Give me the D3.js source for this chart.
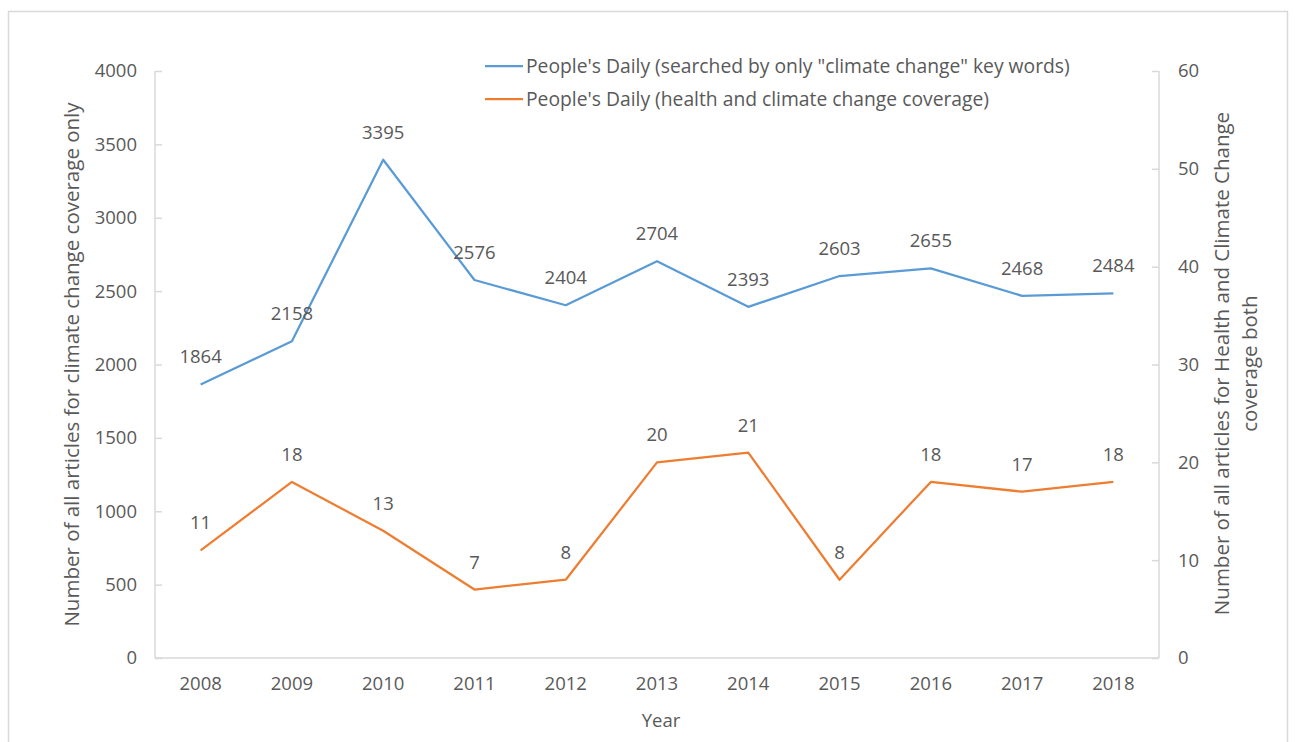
<!DOCTYPE html>
<html>
<head>
<meta charset="utf-8">
<script src="https://cdn.jsdelivr.net/npm/d3@7"></script>
<style>
  body { margin: 0; background: #fff; }
  svg text { font-family: "Open Sans", sans-serif; fill: #595959; }
</style>
</head>
<body>
<div id="container"></div>
<script>
const WIDTH = 1295;
const HEIGHT = 742;
const MARGIN = { TOP: 71, BOTTOM: 84, LEFT: 155, RIGHT: 136 };

const width = WIDTH - MARGIN.LEFT - MARGIN.RIGHT;
const height = HEIGHT - MARGIN.TOP - MARGIN.BOTTOM;

// data
const years = ['2008', '2009', '2010', '2011', '2012', '2013', '2014', '2015', '2016', '2017', '2018'];
const climateOnly = [1864, 2158, 3395, 2576, 2404, 2704, 2393, 2603, 2655, 2468, 2484];
const healthClimate = [11, 18, 13, 7, 8, 20, 21, 8, 18, 17, 18];
const leftTicks = [0, 500, 1000, 1500, 2000, 2500, 3000, 3500, 4000];
const rightTicks = [0, 10, 20, 30, 40, 50, 60];
const seriesNames = [
  'People\'s Daily (searched by only "climate change" key words)',
  "People's Daily (health and climate change coverage)"
];

const BLUE = '#5B9BD5';
const ORANGE = '#ED7D31';
const AXIS = '#D9D9D9';

const svg = d3.select('#container')
  .append('svg')
    .attr('width', WIDTH)
    .attr('height', HEIGHT);

// outer chart border
svg.append('rect')
  .attr('x', 8.5).attr('y', 11.5)
  .attr('width', 1279).attr('height', 740)
  .attr('fill', 'none')
  .attr('stroke', AXIS)
  .attr('stroke-width', 1.5);

const g = svg.append('g')
  .attr('transform', `translate(${MARGIN.LEFT}, ${MARGIN.TOP})`);

const x = d3.scaleBand().domain(years).range([0, width]);
const yLeft = d3.scaleLinear().domain([0, 4000]).range([height, 0]);
const yRight = d3.scaleLinear().domain([0, 60]).range([height, 0]);

const xc = d => x(d) + x.bandwidth() / 2;

// axes (ticks point inwards like excel)
const leftAxis = g.append('g')
  .call(d3.axisLeft(yLeft).tickValues(leftTicks).tickFormat(d3.format('d')).tickSize(-7).tickPadding(18));
const rightAxis = g.append('g')
  .attr('transform', `translate(${width}, 0)`)
  .call(d3.axisRight(yRight).tickValues(rightTicks).tickSize(-7).tickPadding(19));
const bottomAxis = g.append('g')
  .attr('transform', `translate(0, ${height})`)
  .call(d3.axisBottom(x).tickSize(0).tickPadding(19));

[leftAxis, rightAxis, bottomAxis].forEach(a => {
  a.selectAll('.domain').attr('stroke', AXIS).attr('stroke-width', 1.5);
  a.selectAll('.tick line').attr('stroke', AXIS).attr('stroke-width', 1.5);
  a.selectAll('.tick text').style('font-size', '18.5px').attr('fill', '#595959');
});
leftAxis.select('.domain').attr('d', `M0,${height}V0`);
rightAxis.select('.domain').attr('d', `M0,${height}V0`);
bottomAxis.select('.domain').attr('d', `M0,0H${width}`);

// lines
const blueLine = d3.line().x((d, i) => xc(years[i])).y(d => yLeft(d));
const orangeLine = d3.line().x((d, i) => xc(years[i])).y(d => yRight(d));

g.append('path').datum(climateOnly)
  .attr('d', blueLine)
  .attr('fill', 'none').attr('stroke', BLUE).attr('stroke-width', 2.25)
  .attr('stroke-linejoin', 'round');

g.append('path').datum(healthClimate)
  .attr('d', orangeLine)
  .attr('fill', 'none').attr('stroke', ORANGE).attr('stroke-width', 2.25)
  .attr('stroke-linejoin', 'round');

// data labels, above each point
g.selectAll('.lblBlue')
  .data(climateOnly)
  .enter().append('text')
    .attr('class', 'lblBlue')
    .attr('x', (d, i) => xc(years[i]))
    .attr('y', d => yLeft(d) - 21)
    .attr('text-anchor', 'middle')
    .style('font-size', '18.5px')
    .text(d => d);

g.selectAll('.lblOrange')
  .data(healthClimate)
  .enter().append('text')
    .attr('class', 'lblOrange')
    .attr('x', (d, i) => xc(years[i]))
    .attr('y', d => yRight(d) - 21)
    .attr('text-anchor', 'middle')
    .style('font-size', '18.5px')
    .text(d => d);

// axis titles
svg.append('text')
  .attr('transform', `translate(79, ${MARGIN.TOP + height / 2}) rotate(-90)`)
  .attr('text-anchor', 'middle')
  .style('font-size', '20.5px')
  .text('Number of all articles for climate change coverage only');

const rt = svg.append('text')
  .attr('transform', `translate(1229, ${MARGIN.TOP + height / 2 - 1}) rotate(-90)`)
  .attr('text-anchor', 'middle')
  .style('font-size', '20.5px');
rt.append('tspan').attr('x', 0).attr('dy', 0).text('Number of all articles for Health and Climate Change');
rt.append('tspan').attr('x', 0).attr('dy', 28).text('coverage both');

svg.append('text')
  .attr('x', MARGIN.LEFT + width / 2 + 4)
  .attr('y', 727)
  .attr('text-anchor', 'middle')
  .style('font-size', '18.5px')
  .text('Year');

// legend
const legend = svg.append('g').attr('transform', 'translate(485, 66)');
const items = legend.selectAll('g')
  .data(seriesNames)
  .enter().append('g')
    .attr('transform', (d, i) => `translate(0, ${i * 33})`);
items.append('line')
  .attr('x1', 0).attr('x2', 38)
  .attr('stroke', (d, i) => i === 0 ? BLUE : ORANGE)
  .attr('stroke-width', 2.25);
items.append('text')
  .attr('x', 41).attr('y', 6.5)
  .style('font-size', '19.3px')
  .text(d => d);
</script>
</body>
</html>
